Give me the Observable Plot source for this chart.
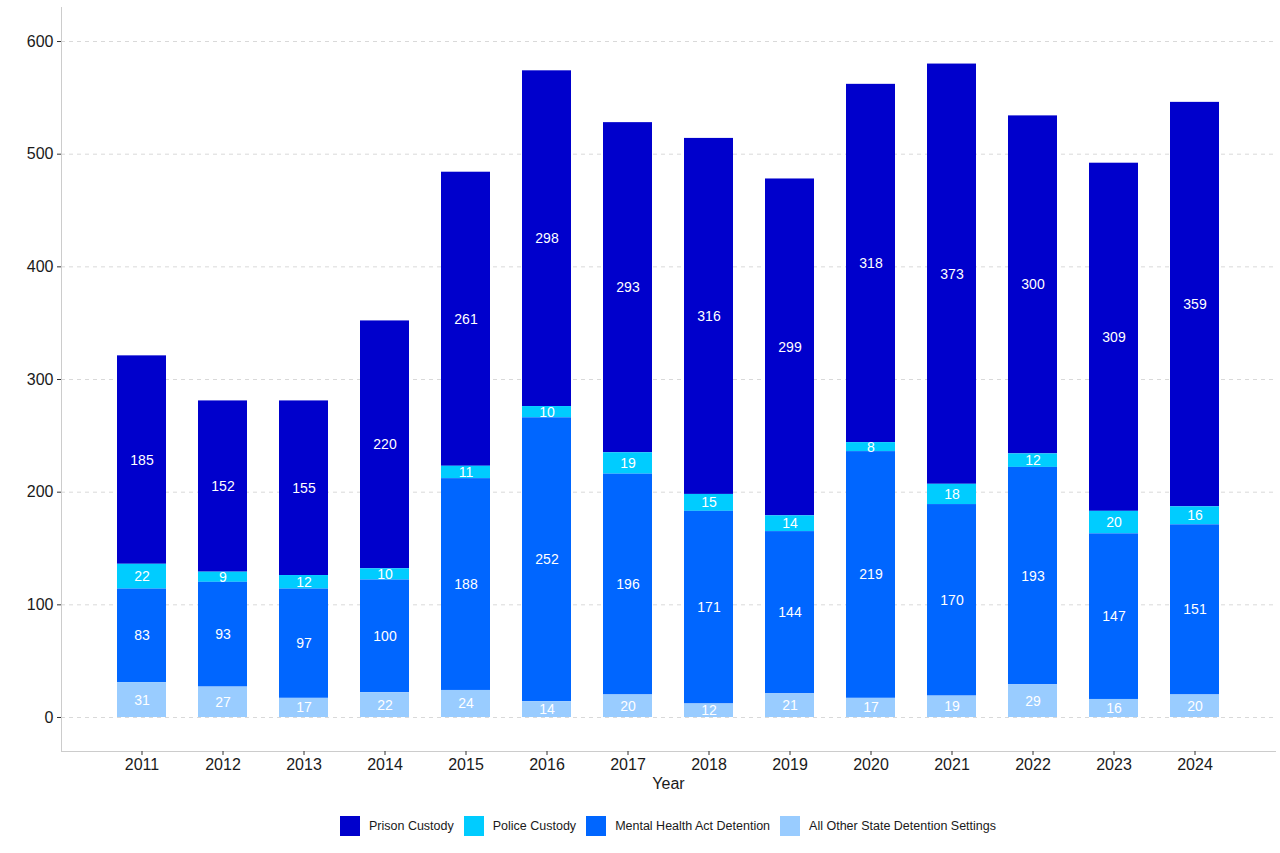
<!DOCTYPE html>
<html>
<head>
<meta charset="utf-8">
<script src="https://cdn.jsdelivr.net/npm/d3@7"></script>
<script src="https://cdn.jsdelivr.net/npm/@observablehq/plot@0.6"></script>
<style>
  body { margin: 0; background: #fff; font-family: "Liberation Sans", Arial, sans-serif; }
  #chart svg { display: block; }
  .legend { display: flex; justify-content: center; align-items: center; padding-top: 21px; padding-left: 61px; padding-right: 5px; font-size: 12.5px; color: #1a1a1a; }
  .legend .item { display: flex; align-items: center; margin: 0 5px; }
  .legend .sw { width: 20px; height: 20px; margin-right: 9px; }
</style>
</head>
<body>
<div id="chart"></div>
<div class="legend" id="legend"></div>
<script>
const years = [2011, 2012, 2013, 2014, 2015, 2016, 2017, 2018, 2019, 2020, 2021, 2022, 2023, 2024];
const seriesNames = ["Prison Custody", "Police Custody", "Mental Health Act Detention", "All Other State Detention Settings"];
const seriesColors = ["#0000CC", "#00CCFF", "#0066FF", "#99CCFF"];
const prisonCustody = [185, 152, 155, 220, 261, 298, 293, 316, 299, 318, 373, 300, 309, 359];
const policeCustody = [22, 9, 12, 10, 11, 10, 19, 15, 14, 8, 18, 12, 20, 16];
const mentalHealth = [83, 93, 97, 100, 188, 252, 196, 171, 144, 219, 170, 193, 147, 151];
const otherSettings = [31, 27, 17, 22, 24, 14, 20, 12, 21, 17, 19, 29, 16, 20];
const yTicks = [0, 100, 200, 300, 400, 500, 600];

const valuesBySeries = [prisonCustody, policeCustody, mentalHealth, otherSettings];
const stackOrder = seriesNames.slice().reverse(); // bottom first

const data = [];
years.forEach((yr, i) => {
  seriesNames.forEach((s, j) => {
    data.push({ year: String(yr), type: s, value: valuesBySeries[j][i] });
  });
});

const chart = Plot.plot({
  width: 1280,
  height: 795,
  marginLeft: 61,
  marginRight: 5,
  marginTop: 7,
  marginBottom: 44,
  style: { fontFamily: "Liberation Sans, Arial, sans-serif", fontSize: "16px", color: "#1a1a1a" },
  x: { type: "band", domain: years.map(String), paddingInner: 0.4, paddingOuter: 0.686 },
  y: { domain: [-30.18, 630.2] },
  color: { domain: seriesNames, range: seriesColors },
  marks: [
    Plot.gridY(yTicks, { stroke: "#d9d9d9", strokeOpacity: 1, strokeDasharray: "4,4" }),
    Plot.frame({ anchor: "left", stroke: "#cccccc" }),
    Plot.frame({ anchor: "bottom", stroke: "#cccccc" }),
    Plot.axisY(yTicks, { tickSize: 4, tickPadding: 4, label: null, fontSize: 16, stroke: "#333" }),
    Plot.axisX({ tickSize: 4, tickPadding: 3, label: "Year", labelAnchor: "center", labelArrow: "none", labelOffset: 37, fontSize: 16, stroke: "#333" }),
    Plot.barY(data, { x: "year", y: "value", fill: "type", order: stackOrder }),
    Plot.text(data, Plot.stackY({ x: "year", y: "value", z: "type", text: "value", order: stackOrder, fill: "white", fontSize: 14 }))
  ]
});
document.getElementById("chart").appendChild(chart);

const legend = document.getElementById("legend");
seriesNames.forEach((s, j) => {
  const item = document.createElement("div");
  item.className = "item";
  const sw = document.createElement("div");
  sw.className = "sw";
  sw.style.background = seriesColors[j];
  const label = document.createElement("span");
  label.textContent = s;
  item.appendChild(sw);
  item.appendChild(label);
  legend.appendChild(item);
});
</script>
</body>
</html>
